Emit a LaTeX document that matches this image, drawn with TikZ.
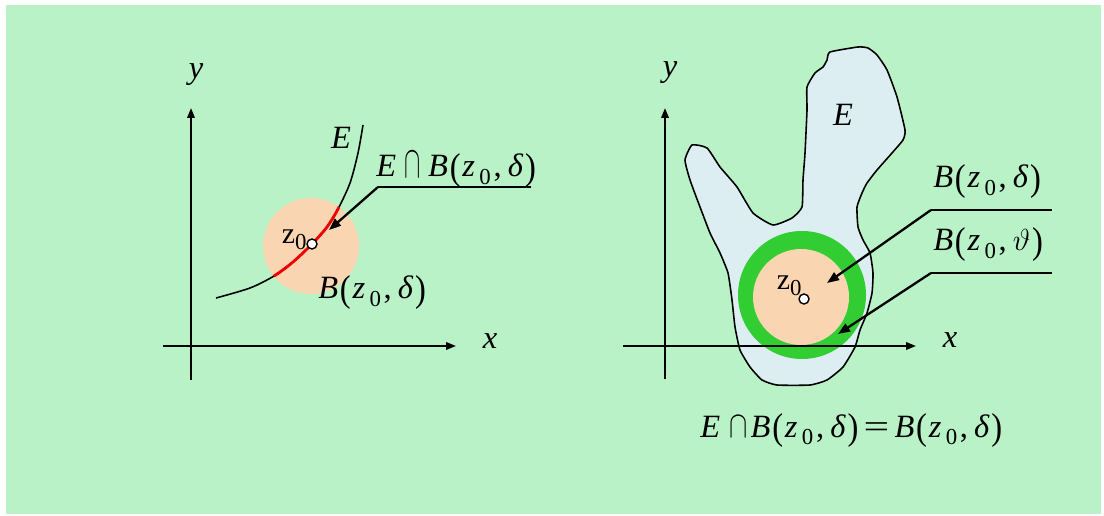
\documentclass[tikz,border=0pt]{standalone}
\usepackage{fontspec}
\setmainfont{Liberation Serif}
\usetikzlibrary{arrows.meta}
\definecolor{mBack}{RGB}{185,242,199}
\definecolor{mPeach}{RGB}{250,213,177}
\definecolor{mRing}{RGB}{50,205,50}
\definecolor{mSky}{RGB}{220,238,242}
\definecolor{mRed}{RGB}{240,0,0}
\tikzset{
axis/.style={-{Triangle[length=2mm,width=1.5mm]},line width=1.1pt},
pointer/.style={-{Triangle[length=2.4mm,width=1.8mm]},line width=1.3pt},
leader/.style={line width=0.6pt},
lbl/.style={font=\fontsize{18.5}{22}\selectfont,inner sep=0pt},
zlbl/.style={font=\fontsize{17}{20}\selectfont,inner sep=0pt},
dot/.style={circle,draw,fill=white,line width=0.8pt,minimum size=2mm,inner sep=0pt}
}
\newcommand{\Paren}[1]{\raisebox{-0.08em}{\scalebox{1}[1.15]{#1}}}
\newcommand{\Ball}[1]{\textit{B}\kern1pt\Paren{(}\kern1pt\textit{z}\kern2.5pt\raisebox{-0.5ex}{\fontsize{13}{15}\selectfont 0}\kern1.5pt,\kern3.5pt#1\kern1pt\Paren{)}}
\newcommand{\zsub}{z\raisebox{-0.4ex}{\fontsize{13}{15}\selectfont 0}}

\begin{document}
\begin{tikzpicture}[x=0.02cm,y=-0.02cm]
\useasboundingbox (0,0) rectangle (1104,516);
\fill[mBack] (6,5) rectangle (1101,514);
\fill[mPeach] (311,246) circle (48);
\draw[line width=0.9pt] plot[smooth] coordinates {(216,298) (250,288) (274,276) (293,262) (312,244) (327,227) (338,209) (350,183) (358,153) (363,125)};
\begin{scope}
\clip (311,246) circle (48);
\draw[mRed,line width=1.6pt] plot[smooth] coordinates {(216,298) (250,288) (274,276) (293,262) (312,244) (327,227) (338,209) (350,183) (358,153) (363,125)};
\end{scope}
\draw[axis] (163,346) -- (456,346);
\draw[axis] (191,380) -- (191,108);
\node[lbl] (xL) at (490,341) {\textit{x}};
\node[lbl] (yL) at (196,75) {\textit{y}};
\node[lbl] (eL) at (341,138) {\textit{E}};
\node[dot] (zL) at (312,244) {};
\node[zlbl,anchor=east] (zLtxt) at (307,240) {\zsub};
\node[lbl,anchor=base west] (capL) at (376,177) {\textit{E}\kern5pt\raisebox{-0.02em}{\scalebox{0.8}[1.5]{$\cap$}}\kern4pt\Ball{\textit{δ}}};
\coordinate (capS) at (378,187);
\coordinate (capE) at (531,187);
\coordinate (capT) at (329,230);
\draw[leader] (capS) -- (capE);
\draw[pointer] (capS) -- (capT);
\node[lbl,anchor=base west] (ballL) at (318,299) {\Ball{\textit{δ}}};
\fill[mSky] plot[smooth cycle,tension=0.3] coordinates {(830,52) (858,47) (868,48) (877,55) (887,70) (897,97) (905,130) (903,140) (892,153) (877,170) (867,183) (862,193) (857,207) (858,227) (863,240) (870,253) (873,273) (872,293) (867,313) (860,330) (855,347) (843,367) (827,380) (810,385) (777,385) (762,380) (750,367) (740,350) (735,327) (732,300) (728,273) (720,253) (710,233) (700,207) (690,180) (685,160) (692,145) (707,148) (720,167) (737,187) (753,213) (773,225) (792,218) (802,207) (803,180) (805,153) (807,110) (807,87) (815,73) (823,67) (827,60)};
\fill[mRing] (802,295) circle (64);
\fill[mPeach] (801,297) circle (48);
\draw[line width=0.9pt] plot[smooth cycle,tension=0.3] coordinates {(830,52) (858,47) (868,48) (877,55) (887,70) (897,97) (905,130) (903,140) (892,153) (877,170) (867,183) (862,193) (857,207) (858,227) (863,240) (870,253) (873,273) (872,293) (867,313) (860,330) (855,347) (843,367) (827,380) (810,385) (777,385) (762,380) (750,367) (740,350) (735,327) (732,300) (728,273) (720,253) (710,233) (700,207) (690,180) (685,160) (692,145) (707,148) (720,167) (737,187) (753,213) (773,225) (792,218) (802,207) (803,180) (805,153) (807,110) (807,87) (815,73) (823,67) (827,60)};
\draw[axis] (623,346) -- (916,346);
\draw[axis] (665,379) -- (665,108);
\node[lbl] (xR) at (950,340) {\textit{x}};
\node[lbl] (yR) at (670,73) {\textit{y}};
\node[lbl] (eR) at (843,115) {\textit{E}};
\node[dot] (zR) at (804,299) {};
\node[zlbl,anchor=east] (zRtxt) at (802,286) {\zsub};
\node[lbl,anchor=base west] (ballR) at (933,188) {\Ball{\textit{δ}}};
\coordinate (ballS) at (931,210);
\coordinate (ballE) at (1052,210);
\coordinate (ballT) at (827,283);
\draw[leader] (ballS) -- (ballE);
\draw[pointer] (ballS) -- (ballT);
\node[lbl,anchor=base west] (ringR) at (933,251) {\Ball{$\vartheta$}};
\coordinate (ringS) at (931,273);
\coordinate (ringE) at (1052,273);
\coordinate (ringT) at (838,334);
\draw[leader] (ringS) -- (ringE);
\draw[pointer] (ringS) -- (ringT);
\node[lbl,anchor=base west] (eqR) at (700,437) {\textit{E}\kern5pt\scalebox{0.9}[1.25]{$\cap$}\kern2pt\Ball{\textit{δ}}\kern3pt\scalebox{1.4}[1]{=}\kern3pt\Ball{\textit{δ}}};
\end{tikzpicture}
\end{document}
